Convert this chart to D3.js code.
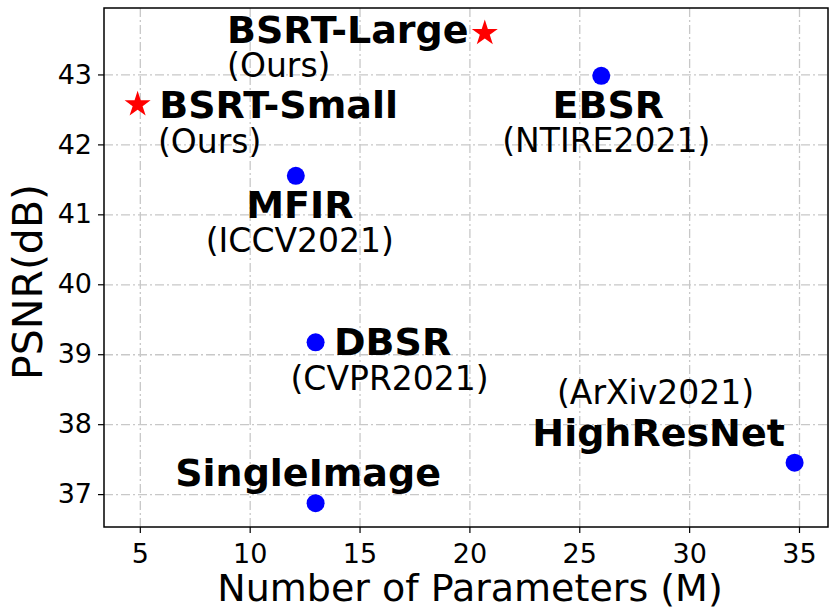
<!DOCTYPE html>
<html>
<head>
<meta charset="utf-8">
<script src="https://d3js.org/d3.v7.min.js"></script>
<style>
  body { margin: 0; background: #fff; }
  svg { display: block; font-family: "DejaVu Sans", sans-serif; }
</style>
</head>
<body>
<script>
// methods and their values
const methods = ["BSRT-Large", "BSRT-Small", "EBSR", "MFIR", "DBSR", "HighResNet", "SingleImage"];
const venues = ["(Ours)", "(Ours)", "(NTIRE2021)", "(ICCV2021)", "(CVPR2021)", "(ArXiv2021)", ""];
const params = [20.7, 4.9, 26.0, 12.1, 13.0, 34.8, 13.0];
const psnr = [43.59, 42.57, 42.98, 41.55, 39.17, 37.45, 36.87];
const ours = [true, true, false, false, false, false, false];

const xTicks = [5, 10, 15, 20, 25, 30, 35];
const yTicks = [37, 38, 39, 40, 41, 42, 43];

// label offsets from the marker, in px (text centred)
const labelPos = {
  "BSRT-Large": { name: [-137, 9.5], venue: [-206, 43.5] },
  "BSRT-Small": { name: [141, 13], venue: [72, 48] },
  "EBSR": { name: [7, 42], venue: [5, 76] },
  "MFIR": { name: [4, 42], venue: [4, 76] },
  "DBSR": { name: [77, 13], venue: [74, 48] },
  "HighResNet": { name: [-136, -17], venue: [-139, -59] },
  "SingleImage": { name: [-7.5, -17], venue: [0, 0] }
};

const W = 831, H = 615;
const margin = { top: 8, right: 3, bottom: 88, left: 104 };
const width = W - margin.left - margin.right;
const height = H - margin.top - margin.bottom;

const svg = d3.select("body").append("svg")
  .attr("width", W)
  .attr("height", H);

const g = svg.append("g")
  .attr("transform", `translate(${margin.left},${margin.top})`);

const x = d3.scaleLinear().domain([3.37, 36.32]).range([0, width]);
const y = d3.scaleLinear().domain([36.53, 43.95]).range([height, 0]);

// grid
g.append("g")
  .attr("transform", `translate(0,${height})`)
  .call(d3.axisBottom(x).tickValues(xTicks).tickSize(-height).tickFormat(""))
  .call(s => s.select(".domain").remove())
  .call(s => s.selectAll("line").attr("stroke", "#c8c8c8").attr("stroke-width", 1.3)
    .attr("stroke-dasharray", "9,3,2,3"));

g.append("g")
  .call(d3.axisLeft(y).tickValues(yTicks).tickSize(-width).tickFormat(""))
  .call(s => s.select(".domain").remove())
  .call(s => s.selectAll("line").attr("stroke", "#c8c8c8").attr("stroke-width", 1.3)
    .attr("stroke-dasharray", "9,3,2,3"));

// axes
const xAxis = g.append("g")
  .attr("transform", `translate(0,${height})`)
  .call(d3.axisBottom(x).tickValues(xTicks).tickSize(6).tickPadding(6).tickSizeOuter(0));
const yAxis = g.append("g")
  .call(d3.axisLeft(y).tickValues(yTicks).tickSize(6).tickPadding(6).tickSizeOuter(0));

[xAxis, yAxis].forEach(a => {
  a.select(".domain").remove();
  a.selectAll("line").attr("stroke", "#000").attr("stroke-width", 1.2);
  a.selectAll("text").attr("fill", "#000").style("font-size", "27px")
    .style("font-family", "DejaVu Sans");
});
xAxis.selectAll("text").attr("dy", "0.88em");

// frame
g.append("rect")
  .attr("width", width).attr("height", height)
  .attr("fill", "none").attr("stroke", "#000").attr("stroke-width", 1.5);

// axis titles
svg.append("text")
  .attr("x", margin.left + width / 2 + 4)
  .attr("y", 601)
  .attr("text-anchor", "middle")
  .style("font-size", "38px")
  .text("Number of Parameters (M)");

svg.append("text")
  .attr("transform", "translate(42,282) rotate(-90)")
  .attr("text-anchor", "middle")
  .style("font-size", "41px")
  .text("PSNR(dB)");

// markers
const star = d3.symbol().type(d3.symbolStar).size(210);
methods.forEach((m, i) => {
  const px = x(params[i]), py = y(psnr[i]);
  if (ours[i]) {
    g.append("path")
      .attr("d", star())
      .attr("transform", `translate(${px},${py})`)
      .attr("fill", "#ff0000");
  } else {
    g.append("circle")
      .attr("cx", px).attr("cy", py).attr("r", 9)
      .attr("fill", "#0000ff");
  }
  const lp = labelPos[m];
  g.append("text")
    .attr("x", px + lp.name[0]).attr("y", py + lp.name[1])
    .attr("text-anchor", "middle")
    .style("font-size", "38px").style("font-weight", "bold")
    .text(m);
  if (venues[i]) {
    g.append("text")
      .attr("x", px + lp.venue[0]).attr("y", py + lp.venue[1])
      .attr("text-anchor", "middle")
      .style("font-size", "33px")
      .text(venues[i]);
  }
});
</script>
</body>
</html>
